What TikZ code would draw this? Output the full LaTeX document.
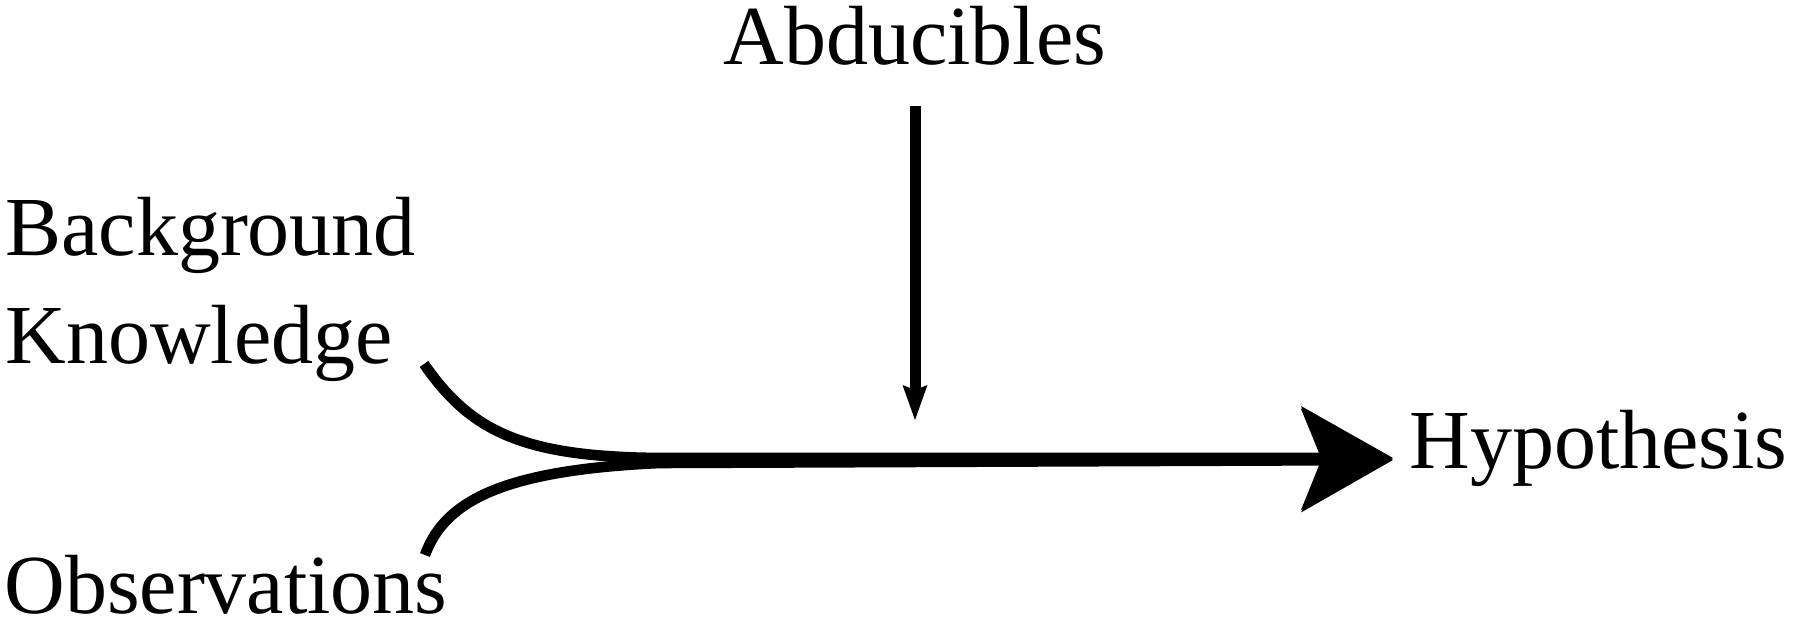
\documentclass[tikz,border=0pt]{standalone}
\usepackage{fontspec}
\setmainfont{Liberation Serif}
\usetikzlibrary{arrows.meta}
\begin{document}
\begin{tikzpicture}[x=0.5pt,y=-0.5pt,
  lbl/.style={inner sep=0pt, anchor=base west, font=\fontsize{42}{50}\selectfont},
  flow/.style={line width=5.3pt, -{Stealth[length=46pt,width=52pt,inset=10.5pt,line width=0pt]}},
  feed/.style={line width=5.5pt, -{Stealth[length=17.5pt,width=12.5pt,inset=2.5pt,line width=0pt]}}]
\useasboundingbox (0,0) rectangle (1800,624);
\node[lbl] (abd) at (723,65) {Abducibles};
\node[lbl] (bg) at (5,256) {Background};
\node[lbl] (kn) at (5,364) {Knowledge};
\node[lbl] (hyp) at (1409,469) {Hypothesis};
\node[lbl] (obs) at (4,614) {Observations};
\coordinate (abdout) at (915,106);
\coordinate (abdin) at (915,420);
\coordinate (kout) at (424,364);
\coordinate (oout) at (425,555);
\coordinate (hinA) at (1393,458);
\coordinate (hinB) at (1393,460);
\draw[feed] (abdout) -- (abdin);
\draw[flow] (kout) .. controls (470,430) and (520,457) .. (660,458) -- (hinA);
\draw[flow] (oout) .. controls (445,500) and (505,470) .. (660,463) -- (hinB);
\end{tikzpicture}
\end{document}
